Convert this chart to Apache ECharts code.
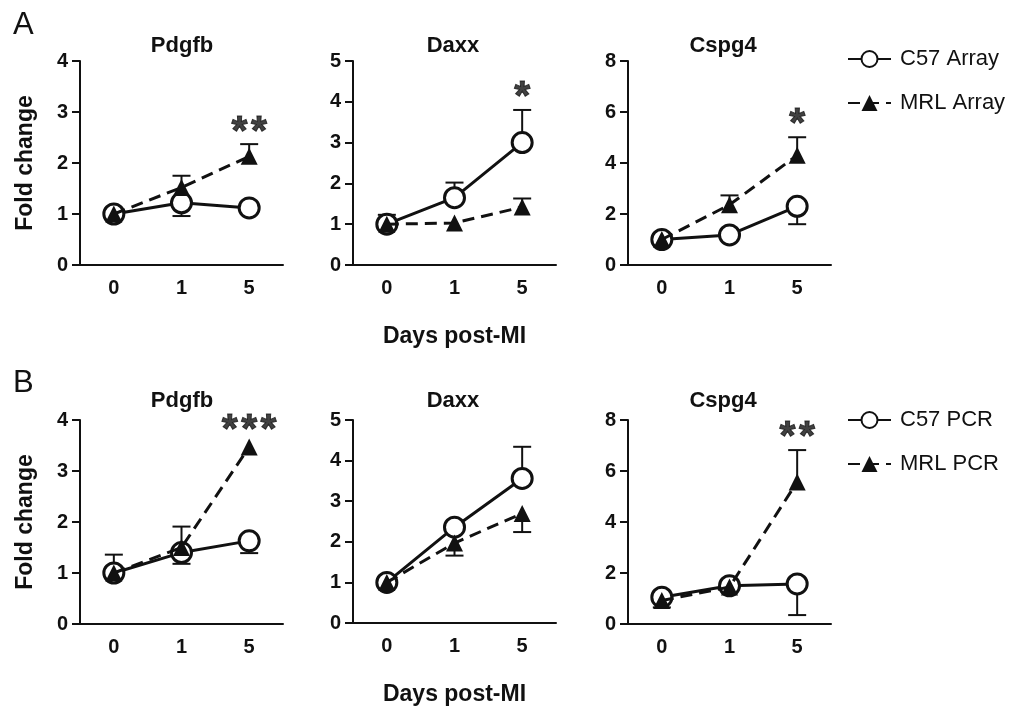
<!DOCTYPE html>
<html><head><meta charset="utf-8">
<script src="https://cdn.jsdelivr.net/npm/echarts@6/dist/echarts.min.js"></script>
<style>html,body{margin:0;padding:0;background:#fff}#c{width:1020px;height:707px}</style>
</head><body><div id="c"></div>
<script>
// ---- data ----
const days = ['0', '1', '5'];
const genes = ['Pdgfb', 'Daxx', 'Cspg4'];
const yMax = [4, 5, 8];
const yStep = [1, 1, 2];

// Panel A: Array
const arrC57 = [[1.0, 1.22, 1.12], [1.0, 1.65, 3.0], [1.0, 1.18, 2.3]];
const arrC57Err = [[null, 0.96, null], [1.23, 2.02, 3.8], [null, null, 1.6]];
const arrMRL = [[1.0, 1.52, 2.13], [1.0, 1.03, 1.42], [1.0, 2.36, 4.3]];
const arrMRLErr = [[null, 1.75, 2.37], [null, null, 1.63], [null, 2.73, 5.01]];
const arrStars = ['**', '*', '*'];
const arrStarY = [2.8, 4.35, 5.9];

// Panel B: PCR
const pcrC57 = [[1.0, 1.40, 1.63], [1.0, 2.36, 3.56], [1.05, 1.5, 1.57]];
const pcrC57Err = [[1.36, 1.18, 1.39], [null, null, 4.34], [0.65, null, 0.35]];
const pcrMRL = [[1.0, 1.5, 3.47], [1.0, 1.97, 2.7], [0.92, 1.45, 5.57]];
const pcrMRLErr = [[null, 1.91, null], [null, 1.66, 2.24], [null, null, 6.82]];
const pcrStars = ['***', '', '**'];
const pcrStarY = [3.99, 0, 7.69];

// ---- layout ----
const gridLeft = [80, 353, 628];
const gridTop = [61, 420];
const gridW = 203, gridH = 204;
const FONT = 'Liberation Sans, Arial, sans-serif';
const INK = '#111';

const grids = [], xAxes = [], yAxes = [], series = [], titles = [];

function errItem(params, api) {
  const x = api.value(0), m = api.value(1), e = api.value(2);
  const p1 = api.coord([x, m]);
  const p2 = api.coord([x, e]);
  const hw = 9;
  return {
    type: 'group', children: [
      { type: 'line', shape: { x1: p1[0], y1: p1[1], x2: p2[0], y2: p2[1] }, style: { stroke: INK, lineWidth: 2 } },
      { type: 'line', shape: { x1: p2[0] - hw, y1: p2[1], x2: p2[0] + hw, y2: p2[1] }, style: { stroke: INK, lineWidth: 2 } }
    ]
  };
}
function errData(mean, err) {
  const out = [];
  err.forEach((e, i) => { if (e !== null) out.push([i, mean[i], e]); });
  return out;
}

const rows = [
  { c57: arrC57, c57e: arrC57Err, mrl: arrMRL, mrle: arrMRLErr, stars: arrStars, starY: arrStarY, n1: 'C57 Array', n2: 'MRL Array' },
  { c57: pcrC57, c57e: pcrC57Err, mrl: pcrMRL, mrle: pcrMRLErr, stars: pcrStars, starY: pcrStarY, n1: 'C57 PCR', n2: 'MRL PCR' }
];
const titleX = [177, 448, 718];
const titleY = [30, 385];

rows.forEach((row, r) => {
  genes.forEach((g, c) => {
    const k = grids.length;
    grids.push({ left: gridLeft[c], top: gridTop[r], width: gridW, height: gridH });
    titles.push({ text: g, left: titleX[c], top: titleY[r], textAlign: 'center',
      textStyle: { fontFamily: FONT, fontWeight: 'bold', fontSize: 22, color: INK } });
    xAxes.push({
      type: 'category', gridIndex: k, data: days, boundaryGap: true,
      axisLine: { lineStyle: { color: INK, width: 2 } },
      axisTick: { alignWithLabel: true, length: 9, lineStyle: { width: 2, color: INK } },
      axisLabel: { fontFamily: FONT, fontWeight: 'bold', fontSize: 20, color: INK, margin: 13 },
      name: c === 1 ? 'Days post-MI' : '', nameLocation: 'middle', nameGap: 60,
      nameTextStyle: { fontFamily: FONT, fontWeight: 'bold', fontSize: 23, color: INK }
    });
    yAxes.push({
      type: 'value', gridIndex: k, min: 0, max: yMax[c], interval: yStep[c],
      splitLine: { show: false },
      axisLine: { show: true, lineStyle: { color: INK, width: 2 } },
      axisTick: { show: true, length: 8, lineStyle: { width: 2, color: INK } },
      axisLabel: { fontFamily: FONT, fontWeight: 'bold', fontSize: 20, color: INK, margin: 12 },
      name: c === 0 ? 'Fold change' : '', nameLocation: 'middle', nameGap: 43,
      nameTextStyle: { fontFamily: FONT, fontWeight: 'bold', fontSize: 23, color: INK }
    });
    // error bars
    series.push({ type: 'custom', xAxisIndex: k, yAxisIndex: k, z: 1, silent: true,
      renderItem: errItem, data: errData(row.c57[c], row.c57e[c]) });
    series.push({ type: 'custom', xAxisIndex: k, yAxisIndex: k, z: 1, silent: true,
      renderItem: errItem, data: errData(row.mrl[c], row.mrle[c]) });
    // lines
    series.push({ type: 'line', name: row.n1, xAxisIndex: k, yAxisIndex: k, z: 3,
      data: row.c57[c], symbol: 'circle', symbolSize: 20,
      lineStyle: { color: INK, width: 3 },
      itemStyle: { color: '#fff', borderColor: INK, borderWidth: 3 } });
    series.push({ type: 'line', name: row.n2, xAxisIndex: k, yAxisIndex: k, z: 4,
      data: row.mrl[c], symbol: 'triangle', symbolSize: 17,
      lineStyle: { color: INK, width: 3, type: [12, 7] },
      itemStyle: { color: INK } });
    // significance stars
    if (row.stars[c]) {
      series.push({ type: 'scatter', xAxisIndex: k, yAxisIndex: k, z: 5, silent: true,
        symbolSize: 0, itemStyle: { color: INK },
        data: [{ value: [2, row.starY[c]], name: row.stars[c] }],
        label: { show: true, position: 'inside', offset: [0, 10],
          formatter: p => p.name.split('').join('\u200A'),
          fontFamily: FONT, fontWeight: 'bold', fontSize: 41, color: INK,
          textBorderWidth: 1, textBorderColor: INK } });
    }
  });
});

const legendBase = {
  orient: 'vertical', left: 842, itemWidth: 43, itemHeight: 20, itemGap: 22,
  textStyle: { fontFamily: FONT, fontSize: 22, color: INK, padding: [0, 0, 0, 4] }
};

const chart = echarts.init(document.getElementById('c'), null, { renderer: 'canvas' });
chart.setOption({
  animation: false,
  backgroundColor: '#fff',
  title: titles,
  graphic: [
    { type: 'text', left: 13, top: 10, style: { text: 'A', fontFamily: FONT, fontSize: 31, fill: INK } },
    { type: 'text', left: 13, top: 368, style: { text: 'B', fontFamily: FONT, fontSize: 31, fill: INK } }
  ],
  legend: [
    Object.assign({}, legendBase, { top: 43, data: ['C57 Array', 'MRL Array'] }),
    Object.assign({}, legendBase, { top: 404, data: ['C57 PCR', 'MRL PCR'] })
  ],
  grid: grids, xAxis: xAxes, yAxis: yAxes, series: series
});
</script></body></html>
